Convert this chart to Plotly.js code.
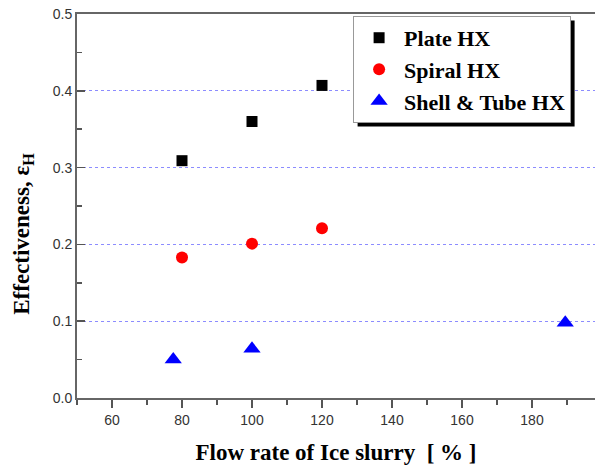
<!DOCTYPE html>
<html>
<head>
<meta charset="utf-8">
<script src="https://cdn.plot.ly/plotly-3.0.1.min.js"></script>
<style>html,body{margin:0;padding:0;background:#fff;}#chart{width:595px;height:469px;}</style>
</head>
<body>
<div id="chart"></div>
<script>
// Data
const seriesNames = ["Plate HX", "Spiral HX", "Shell & Tube HX"];
const plateX = [80, 100, 120];
const plateY = [0.309, 0.360, 0.407];
const spiralX = [80, 100, 120];
const spiralY = [0.183, 0.201, 0.221];
const shellX = [77.5, 100, 189.5];
const shellY = [0.050, 0.064, 0.098];
const xTitle = "Flow rate of Ice slurry\u00a0\u00a0[\u00a0%\u00a0]";
const yTitle = "Effectiveness, \u03b5<sub>H</sub>";

const serif = "'Liberation Serif', 'Times New Roman', serif";
const sans = "'Liberation Sans', Arial, sans-serif";

const traces = [
  {x: plateX, y: plateY, name: seriesNames[0], type: "scatter", mode: "markers",
   marker: {symbol: "square", size: 11, color: "#000000"}},
  {x: spiralX, y: spiralY, name: seriesNames[1], type: "scatter", mode: "markers",
   marker: {symbol: "circle", size: 12, color: "#ff0000"}},
  {x: shellX, y: shellY, name: seriesNames[2], type: "scatter", mode: "markers",
   marker: {symbol: "triangle-up", size: 15, color: "#0000ff"}}
];

const axisCommon = {
  showline: true, linecolor: "#666", linewidth: 2,
  tickcolor: "#555", tickwidth: 1.5,
  tickfont: {family: sans, size: 14, color: "#333"},
  zeroline: false
};

const layout = {
  width: 595, height: 469,
  margin: {l: 77, r: 0, t: 14, b: 71},
  paper_bgcolor: "#fff", plot_bgcolor: "#fff",
  showlegend: true,
  legend: {
    x: 0.533, y: 0.995, xanchor: "left", yanchor: "top",
    bgcolor: "#fff", bordercolor: "#999", borderwidth: 1,
    font: {family: serif, size: 22, color: "#000", weight: "bold"},
    tracegroupgap: 0, itemwidth: 40
  },
  xaxis: Object.assign({}, axisCommon, {
    range: [50, 198], dtick: 20, tick0: 60,
    ticks: "outside", ticklen: 8,
    minor: {dtick: 10, tick0: 50, ticklen: 5, tickcolor: "#555", ticks: "outside"},
    showgrid: false, mirror: true,
    title: {text: xTitle, font: {family: serif, size: 23, color: "#000", weight: "bold"}, standoff: 17}
  }),
  yaxis: Object.assign({}, axisCommon, {
    range: [0, 0.5], dtick: 0.1, tick0: 0, tickformat: ".1f",
    ticks: "inside", ticklen: 8,
    minor: {dtick: 0.05, ticklen: 5, tickcolor: "#555", ticks: "inside"},
    showgrid: true, gridcolor: "#8c8cff", griddash: "dot", gridwidth: 1
  }),
  shapes: [],
  annotations: [
    {text: yTitle, xref: "paper", yref: "paper", x: -0.104, y: 0.428,
     xanchor: "center", yanchor: "middle", textangle: -90, showarrow: false,
     font: {family: serif, size: 23, color: "#000", weight: "bold"}}
  ]
};

Plotly.newPlot("chart", traces, layout, {displayModeBar: false, staticPlot: true}).then(function (gd) {
  // Drop shadow behind the legend box, placed from the rendered legend size
  const bg = gd.querySelector(".legend .bg");
  if (!bg) return;
  const r = bg.getBoundingClientRect();
  const c = gd.getBoundingClientRect();
  const fl = gd._fullLayout;
  const px = (v) => (v - c.left - fl._size.l) / fl._size.w;
  const py = (v) => 1 - (v - c.top - fl._size.t) / fl._size.h;
  const off = 4;
  return Plotly.relayout(gd, {shapes: [{
    type: "rect", xref: "paper", yref: "paper",
    x0: px(r.left + off), x1: px(r.right + off),
    y0: py(r.bottom + off), y1: py(r.top + off),
    fillcolor: "#000", line: {width: 0}, layer: "above"
  }]});
});
</script>
</body>
</html>
